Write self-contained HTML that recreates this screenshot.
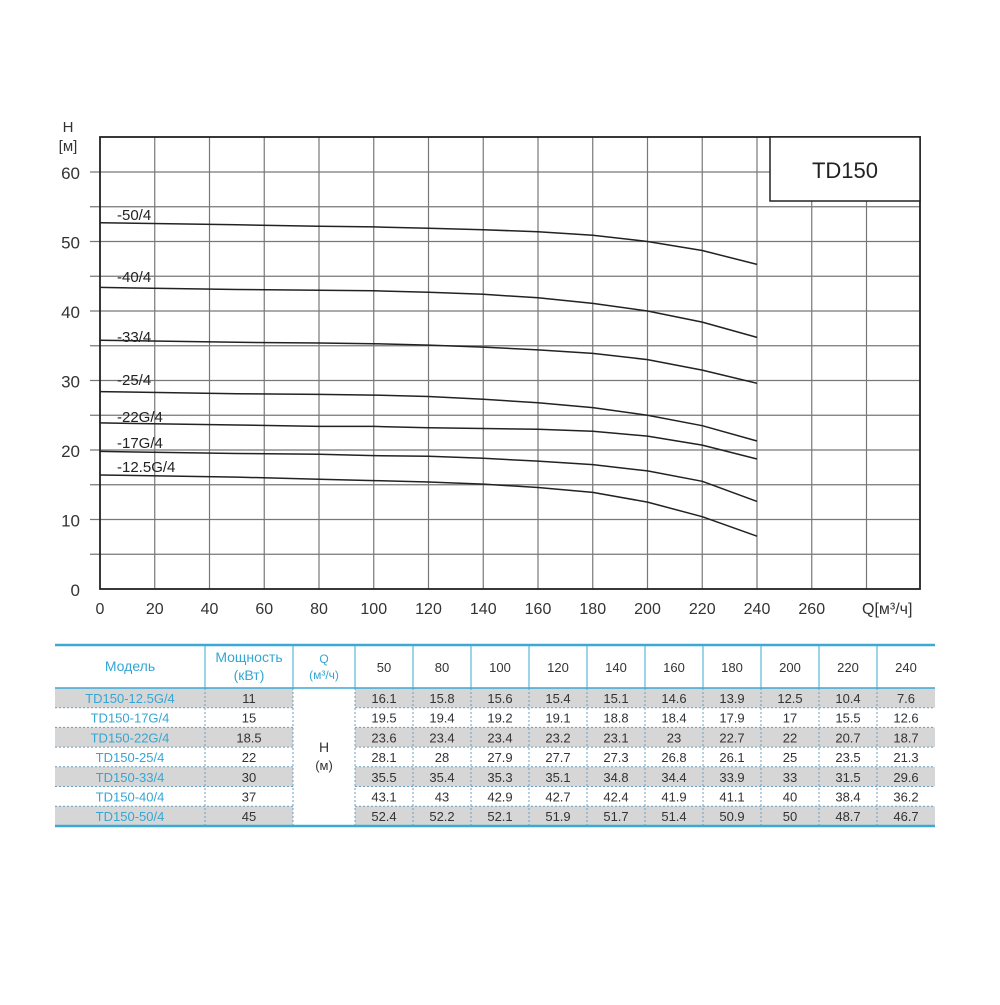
<!DOCTYPE html><html><head><style>body{margin:0;background:#fff;width:1000px;height:1000px;overflow:hidden}</style></head><body>
<svg width="1000" height="1000" xmlns="http://www.w3.org/2000/svg" font-family="Liberation Sans, Arial, sans-serif">
<g stroke="#777" stroke-width="1.2">
<line x1="154.75" y1="137" x2="154.75" y2="589"/><line x1="209.5" y1="137" x2="209.5" y2="589"/><line x1="264.25" y1="137" x2="264.25" y2="589"/><line x1="319" y1="137" x2="319" y2="589"/><line x1="373.75" y1="137" x2="373.75" y2="589"/><line x1="428.5" y1="137" x2="428.5" y2="589"/><line x1="483.25" y1="137" x2="483.25" y2="589"/><line x1="538" y1="137" x2="538" y2="589"/><line x1="592.75" y1="137" x2="592.75" y2="589"/><line x1="647.5" y1="137" x2="647.5" y2="589"/><line x1="702.25" y1="137" x2="702.25" y2="589"/><line x1="757" y1="137" x2="757" y2="589"/><line x1="811.75" y1="137" x2="811.75" y2="589"/><line x1="866.5" y1="137" x2="866.5" y2="589"/>
<line x1="90" y1="554.25" x2="920" y2="554.25"/><line x1="90" y1="519.5" x2="920" y2="519.5"/><line x1="90" y1="484.75" x2="920" y2="484.75"/><line x1="90" y1="450" x2="920" y2="450"/><line x1="90" y1="415.25" x2="920" y2="415.25"/><line x1="90" y1="380.5" x2="920" y2="380.5"/><line x1="90" y1="345.75" x2="920" y2="345.75"/><line x1="90" y1="311" x2="920" y2="311"/><line x1="90" y1="276.25" x2="920" y2="276.25"/><line x1="90" y1="241.5" x2="920" y2="241.5"/><line x1="90" y1="206.75" x2="920" y2="206.75"/><line x1="90" y1="172" x2="920" y2="172"/>
</g>
<g fill="none" stroke="#222" stroke-width="1.5" stroke-linejoin="round">
<polyline points="100,475 236.9,477.1 319,479.2 373.75,480.6 428.5,482 483.25,484.1 538,487.5 592.75,492.4 647.5,502.1 702.25,516.7 757,536.2"/>
<polyline points="100,451.4 236.9,453.5 319,454.2 373.75,455.6 428.5,456.3 483.25,458.3 538,461.1 592.75,464.6 647.5,470.9 702.25,481.3 757,501.4"/>
<polyline points="100,422.9 236.9,425 319,426.4 373.75,426.4 428.5,427.8 483.25,428.5 538,429.2 592.75,431.2 647.5,436.1 702.25,445.1 757,459"/>
<polyline points="100,391.6 236.9,393.7 319,394.4 373.75,395.1 428.5,396.5 483.25,399.3 538,402.7 592.75,407.6 647.5,415.25 702.25,425.7 757,441"/>
<polyline points="100,340.2 236.9,342.3 319,343 373.75,343.7 428.5,345.1 483.25,347.1 538,349.9 592.75,353.4 647.5,359.6 702.25,370.1 757,383.3"/>
<polyline points="100,287.4 236.9,289.5 319,290.2 373.75,290.8 428.5,292.2 483.25,294.3 538,297.8 592.75,303.4 647.5,311 702.25,322.1 757,337.4"/>
<polyline points="100,222.7 236.9,224.8 319,226.2 373.75,226.9 428.5,228.3 483.25,229.7 538,231.8 592.75,235.2 647.5,241.5 702.25,250.5 757,264.4"/>
</g>
<g font-size="15" fill="#222">
<text x="117" y="220">-50/4</text><text x="117" y="282">-40/4</text><text x="117" y="342">-33/4</text><text x="117" y="385">-25/4</text><text x="117" y="422">-22G/4</text><text x="117" y="448">-17G/4</text><text x="117" y="472">-12.5G/4</text>
</g>
<g font-size="17" fill="#333" text-anchor="end">
<text x="80" y="596">0</text><text x="80" y="526.5">10</text><text x="80" y="457">20</text><text x="80" y="387.5">30</text><text x="80" y="318">40</text><text x="80" y="248.5">50</text><text x="80" y="179">60</text>
</g>
<g font-size="16" fill="#333" text-anchor="middle">
<text x="100" y="614">0</text><text x="154.75" y="614">20</text><text x="209.5" y="614">40</text><text x="264.25" y="614">60</text><text x="319" y="614">80</text><text x="373.75" y="614">100</text><text x="428.5" y="614">120</text><text x="483.25" y="614">140</text><text x="538" y="614">160</text><text x="592.75" y="614">180</text><text x="647.5" y="614">200</text><text x="702.25" y="614">220</text><text x="757" y="614">240</text><text x="811.75" y="614">260</text>
</g>
<rect x="100" y="137" width="820" height="452" fill="none" stroke="#222" stroke-width="1.8"/>
<rect x="770" y="137" width="150" height="64" fill="#fff" stroke="#222" stroke-width="1.5"/>
<text x="845" y="178" font-size="22" text-anchor="middle" fill="#222">TD150</text>
<text x="68" y="132" font-size="15" fill="#333" text-anchor="middle">H</text>
<text x="68" y="151" font-size="15" fill="#333" text-anchor="middle">[м]</text>
<text x="862" y="614" font-size="16" fill="#333">Q[м³/ч]</text>

<!-- table -->
<g fill="#d6d6d6">
<rect x="55" y="688" width="238" height="19.7"/><rect x="355" y="688" width="580" height="19.7"/>
<rect x="55" y="727.4" width="238" height="19.7"/><rect x="355" y="727.4" width="580" height="19.7"/>
<rect x="55" y="766.8" width="238" height="19.7"/><rect x="355" y="766.8" width="580" height="19.7"/>
<rect x="55" y="806.2" width="238" height="19.7"/><rect x="355" y="806.2" width="580" height="19.7"/>
</g>
<g stroke="#6a9fc0" stroke-dasharray="2,2">
<line x1="55" y1="707.7" x2="293" y2="707.7"/><line x1="355" y1="707.7" x2="935" y2="707.7"/>
<line x1="55" y1="727.4" x2="293" y2="727.4"/><line x1="355" y1="727.4" x2="935" y2="727.4"/>
<line x1="55" y1="747.1" x2="293" y2="747.1"/><line x1="355" y1="747.1" x2="935" y2="747.1"/>
<line x1="55" y1="766.8" x2="293" y2="766.8"/><line x1="355" y1="766.8" x2="935" y2="766.8"/>
<line x1="55" y1="786.5" x2="293" y2="786.5"/><line x1="355" y1="786.5" x2="935" y2="786.5"/>
<line x1="55" y1="806.2" x2="293" y2="806.2"/><line x1="355" y1="806.2" x2="935" y2="806.2"/>
<line x1="205" y1="688" x2="205" y2="826"/><line x1="293" y1="688" x2="293" y2="826"/><line x1="355" y1="688" x2="355" y2="826"/><line x1="413" y1="688" x2="413" y2="826"/><line x1="471" y1="688" x2="471" y2="826"/><line x1="529" y1="688" x2="529" y2="826"/><line x1="587" y1="688" x2="587" y2="826"/><line x1="645" y1="688" x2="645" y2="826"/><line x1="703" y1="688" x2="703" y2="826"/><line x1="761" y1="688" x2="761" y2="826"/><line x1="819" y1="688" x2="819" y2="826"/><line x1="877" y1="688" x2="877" y2="826"/>
</g>
<g stroke="#3aa9d6" stroke-width="1">
<line x1="205" y1="645" x2="205" y2="688"/><line x1="293" y1="645" x2="293" y2="688"/><line x1="355" y1="645" x2="355" y2="688"/><line x1="413" y1="645" x2="413" y2="688"/><line x1="471" y1="645" x2="471" y2="688"/><line x1="529" y1="645" x2="529" y2="688"/><line x1="587" y1="645" x2="587" y2="688"/><line x1="645" y1="645" x2="645" y2="688"/><line x1="703" y1="645" x2="703" y2="688"/><line x1="761" y1="645" x2="761" y2="688"/><line x1="819" y1="645" x2="819" y2="688"/><line x1="877" y1="645" x2="877" y2="688"/>
<line x1="55" y1="645" x2="935" y2="645" stroke-width="2.5"/>
<line x1="55" y1="688" x2="935" y2="688" stroke-width="1.5"/>
<line x1="55" y1="826" x2="935" y2="826" stroke-width="2.5"/>
</g>
<g font-size="14" fill="#35a6d3" text-anchor="middle">
<text x="130" y="671">Модель</text><text x="249" y="662">Мощность</text><text x="249" y="680">(кВт)</text>
<text x="324" y="663" font-size="12">Q</text><text x="324" y="679" font-size="12">(м³/ч)</text>
</g>
<g font-size="13" fill="#35a6d3" text-anchor="middle">
<text x="130" y="703">TD150-12.5G/4</text><text x="130" y="722.7">TD150-17G/4</text><text x="130" y="742.4">TD150-22G/4</text><text x="130" y="762.1">TD150-25/4</text><text x="130" y="781.8">TD150-33/4</text><text x="130" y="801.5">TD150-40/4</text><text x="130" y="821.2">TD150-50/4</text>
</g>
<g font-size="13" fill="#333" text-anchor="middle">
<text x="384" y="672">50</text><text x="442" y="672">80</text><text x="500" y="672">100</text><text x="558" y="672">120</text><text x="616" y="672">140</text><text x="674" y="672">160</text><text x="732" y="672">180</text><text x="790" y="672">200</text><text x="848" y="672">220</text><text x="906" y="672">240</text>
<text x="324" y="752" font-size="14">H</text><text x="324" y="770">(м)</text>
<text x="249" y="703">11</text><text x="249" y="722.7">15</text><text x="249" y="742.4">18.5</text><text x="249" y="762.1">22</text><text x="249" y="781.8">30</text><text x="249" y="801.5">37</text><text x="249" y="821.2">45</text>
<text x="384" y="703">16.1</text><text x="442" y="703">15.8</text><text x="500" y="703">15.6</text><text x="558" y="703">15.4</text><text x="616" y="703">15.1</text><text x="674" y="703">14.6</text><text x="732" y="703">13.9</text><text x="790" y="703">12.5</text><text x="848" y="703">10.4</text><text x="906" y="703">7.6</text>
<text x="384" y="722.7">19.5</text><text x="442" y="722.7">19.4</text><text x="500" y="722.7">19.2</text><text x="558" y="722.7">19.1</text><text x="616" y="722.7">18.8</text><text x="674" y="722.7">18.4</text><text x="732" y="722.7">17.9</text><text x="790" y="722.7">17</text><text x="848" y="722.7">15.5</text><text x="906" y="722.7">12.6</text>
<text x="384" y="742.4">23.6</text><text x="442" y="742.4">23.4</text><text x="500" y="742.4">23.4</text><text x="558" y="742.4">23.2</text><text x="616" y="742.4">23.1</text><text x="674" y="742.4">23</text><text x="732" y="742.4">22.7</text><text x="790" y="742.4">22</text><text x="848" y="742.4">20.7</text><text x="906" y="742.4">18.7</text>
<text x="384" y="762.1">28.1</text><text x="442" y="762.1">28</text><text x="500" y="762.1">27.9</text><text x="558" y="762.1">27.7</text><text x="616" y="762.1">27.3</text><text x="674" y="762.1">26.8</text><text x="732" y="762.1">26.1</text><text x="790" y="762.1">25</text><text x="848" y="762.1">23.5</text><text x="906" y="762.1">21.3</text>
<text x="384" y="781.8">35.5</text><text x="442" y="781.8">35.4</text><text x="500" y="781.8">35.3</text><text x="558" y="781.8">35.1</text><text x="616" y="781.8">34.8</text><text x="674" y="781.8">34.4</text><text x="732" y="781.8">33.9</text><text x="790" y="781.8">33</text><text x="848" y="781.8">31.5</text><text x="906" y="781.8">29.6</text>
<text x="384" y="801.5">43.1</text><text x="442" y="801.5">43</text><text x="500" y="801.5">42.9</text><text x="558" y="801.5">42.7</text><text x="616" y="801.5">42.4</text><text x="674" y="801.5">41.9</text><text x="732" y="801.5">41.1</text><text x="790" y="801.5">40</text><text x="848" y="801.5">38.4</text><text x="906" y="801.5">36.2</text>
<text x="384" y="821.2">52.4</text><text x="442" y="821.2">52.2</text><text x="500" y="821.2">52.1</text><text x="558" y="821.2">51.9</text><text x="616" y="821.2">51.7</text><text x="674" y="821.2">51.4</text><text x="732" y="821.2">50.9</text><text x="790" y="821.2">50</text><text x="848" y="821.2">48.7</text><text x="906" y="821.2">46.7</text>
</g>
</svg>
</body></html>
